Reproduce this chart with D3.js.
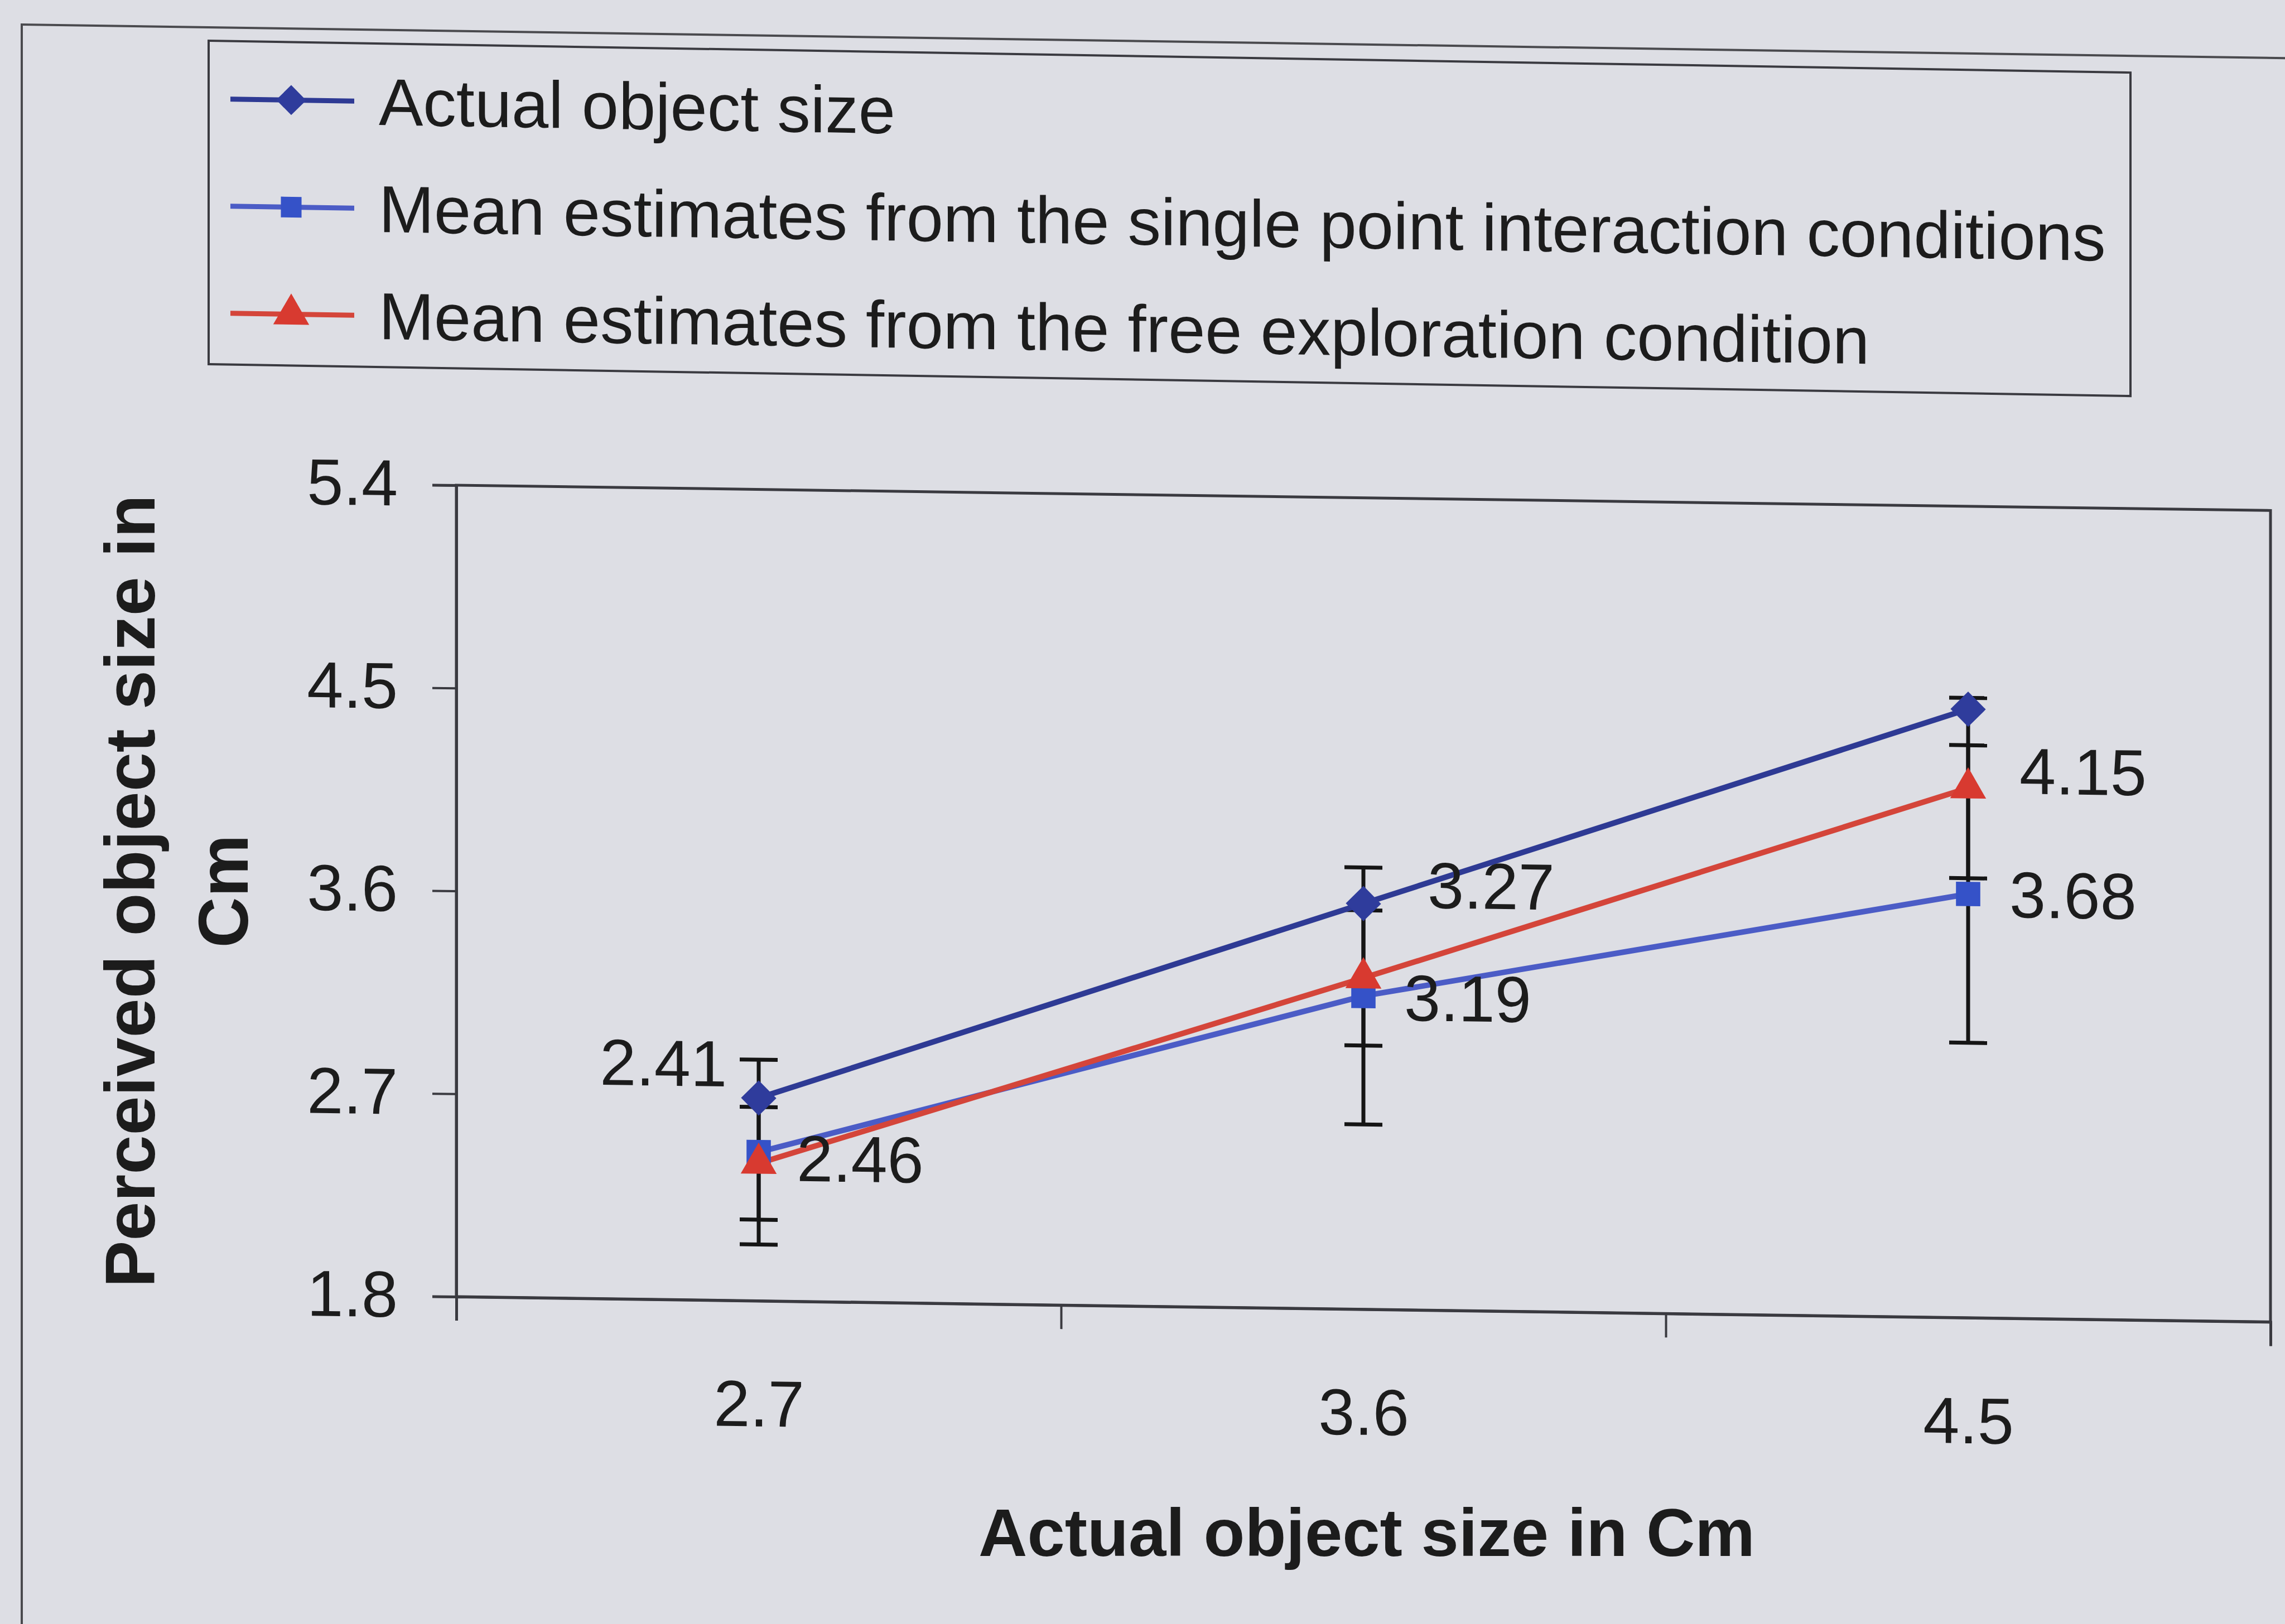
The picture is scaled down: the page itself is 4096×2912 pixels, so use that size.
<!DOCTYPE html>
<html>
<head>
<meta charset="utf-8">
<script src="https://cdn.jsdelivr.net/npm/d3@7"></script>
<style>
  html, body { margin: 0; padding: 0; background: #dddee4; }
  svg { display: block; font-family: "Liberation Sans", Arial, sans-serif; }
</style>
</head>
<body>
<svg width="4096" height="2912"></svg>
<script>
// values
var categories = ["2.7", "3.6", "4.5"];
var yTicks = [1.8, 2.7, 3.6, 4.5, 5.4];
var actualSize = [2.7, 3.6, 4.5];
var singlePoint = [2.46, 3.19, 3.68];
var singlePointErr = [0.41, 0.57, 0.66];
var freeExploration = [2.41, 3.27, 4.15];
var freeExplorationErr = [0.25, 0.3, 0.4];
var legendLabels = [
  "Actual object size",
  "Mean estimates from the single point interaction conditions",
  "Mean estimates from the free exploration condition"
];

// where the data labels sit next to their points (dx, dy, anchor)
var singleLabelOffsets = [[68, 51, "start"], [73, 43, "start"], [74, 41, "start"]];
var freeLabelOffsets = [[-57, -137, "end"], [115, -127, "start"], [92, 9, "start"]];

var svg = d3.select("svg");
var textColor = "#1c1c1c";

var series = [
  { name: legendLabels[0], values: actualSize, line: "#2e3a94", fill: "#2f3c9c", symbol: "diamond" },
  { name: legendLabels[1], values: singlePoint, err: singlePointErr, line: "#4b5cc6", fill: "#3552c8", symbol: "square", labels: singleLabelOffsets },
  { name: legendLabels[2], values: freeExploration, err: freeExplorationErr, line: "#d4453a", fill: "#d83a30", symbol: "triangle", labels: freeLabelOffsets }
];

function markerPath(kind) {
  if (kind === "diamond") return d3.symbol(d3.symbolSquare, 2000)();
  if (kind === "square") return d3.symbol(d3.symbolSquare, 1900)();
  return d3.symbol(d3.symbolTriangle, 1800)();
}
function markerTransform(kind, x, y) {
  return `translate(${x},${y})` + (kind === "diamond" ? " rotate(45)" : "");
}

// outer frame of the photographed sheet
svg.append("rect")
  .attr("transform", "translate(39,44) skewY(0.85)")
  .attr("width", 4200).attr("height", 3000)
  .attr("fill", "none").attr("stroke", "#4a4a4e").attr("stroke-width", 4);

// plot area
var margins = { left: 818, top: 870 };
var chartWidth = 3252;
var chartHeight = 1455;
var g = svg.append("g")
  .attr("transform", `translate(${margins.left},${margins.top}) skewY(0.8)`);

var xScale = d3.scalePoint(categories, [0, chartWidth]).padding(0.5);
var yScale = d3.scaleLinear([1.8, 5.4], [chartHeight, 0]);

g.append("rect")
  .attr("width", chartWidth).attr("height", chartHeight)
  .attr("fill", "none").attr("stroke", "#3a3a40").attr("stroke-width", 5);

// y axis
var yAxis = g.append("g")
  .call(d3.axisLeft(yScale).tickValues(yTicks).tickFormat(d3.format(".1f")).tickSize(43).tickPadding(62));
yAxis.select(".domain").attr("stroke", "#3a3a40").attr("stroke-width", 5);
yAxis.selectAll(".tick line").attr("stroke", "#3a3a40").attr("stroke-width", 4);
yAxis.selectAll(".tick text").attr("font-size", 117).attr("fill", textColor)
  .attr("font-family", "Liberation Sans, Arial, sans-serif");

// x axis: tick marks at the category edges, labels at the centres
var edgeScale = d3.scaleLinear([0, categories.length], [0, chartWidth]);
var xTickAxis = g.append("g")
  .attr("transform", `translate(0,${chartHeight})`)
  .call(d3.axisBottom(edgeScale).tickValues(d3.range(categories.length + 1)).tickFormat("").tickSize(43));
xTickAxis.select(".domain").attr("stroke", "#3a3a40").attr("stroke-width", 5);
xTickAxis.selectAll(".tick line").attr("stroke", "#3a3a40").attr("stroke-width", 4);

var xLabelAxis = g.append("g")
  .attr("transform", `translate(0,${chartHeight})`)
  .call(d3.axisBottom(xScale).tickSize(0).tickPadding(142));
xLabelAxis.select(".domain").remove();
xLabelAxis.selectAll(".tick text").attr("font-size", 117).attr("fill", textColor)
  .attr("font-family", "Liberation Sans, Arial, sans-serif");

// error bars
series.filter(function (s) { return s.err; }).forEach(function (s) {
  var eb = g.append("g").attr("stroke", "#151515").attr("stroke-width", 7).attr("fill", "none");
  s.values.forEach(function (v, i) {
    var x = xScale(categories[i]);
    var lo = yScale(v - s.err[i]);
    var hi = yScale(v + s.err[i]);
    eb.append("line").attr("x1", x).attr("x2", x).attr("y1", lo).attr("y2", hi);
    eb.append("line").attr("x1", x - 34).attr("x2", x + 34).attr("y1", lo).attr("y2", lo);
    eb.append("line").attr("x1", x - 34).attr("x2", x + 34).attr("y1", hi).attr("y2", hi);
  });
});

// lines
var line = d3.line()
  .x(function (d, i) { return xScale(categories[i]); })
  .y(function (d) { return yScale(d); });

series.forEach(function (s) {
  g.append("path")
    .datum(s.values)
    .attr("d", line)
    .attr("fill", "none")
    .attr("stroke", s.line)
    .attr("stroke-width", 10);
});

// markers
series.forEach(function (s) {
  g.append("g").selectAll("path")
    .data(s.values)
    .join("path")
    .attr("d", markerPath(s.symbol))
    .attr("transform", function (d, i) { return markerTransform(s.symbol, xScale(categories[i]), yScale(d)); })
    .attr("fill", s.fill);
});

// data labels
series.filter(function (s) { return s.labels; }).forEach(function (s) {
  g.append("g").selectAll("text")
    .data(s.values)
    .join("text")
    .attr("x", function (d, i) { return xScale(categories[i]) + s.labels[i][0]; })
    .attr("y", function (d, i) { return yScale(d) + s.labels[i][1]; })
    .attr("text-anchor", function (d, i) { return s.labels[i][2]; })
    .attr("font-size", 117)
    .attr("fill", textColor)
    .text(function (d) { return d3.format(".2f")(d); });
});

// axis titles
svg.append("text")
  .attr("x", 2450).attr("y", 2790)
  .attr("text-anchor", "middle")
  .attr("font-size", 121).attr("font-weight", "bold").attr("fill", textColor)
  .text("Actual object size in Cm");

var yTitle = svg.append("text")
  .attr("transform", "translate(0,1598) rotate(-90)")
  .attr("text-anchor", "middle")
  .attr("font-size", 126).attr("font-weight", "bold").attr("fill", textColor);
yTitle.append("tspan").attr("x", 0).attr("y", 277).text("Perceived object size in");
yTitle.append("tspan").attr("x", 0).attr("y", 444).text("Cm");

// legend
var legend = svg.append("g")
  .attr("transform", "translate(374,73) skewY(0.95)");
legend.append("rect")
  .attr("width", 3445).attr("height", 580)
  .attr("fill", "none").attr("stroke", "#3a3a40").attr("stroke-width", 4);

var rowY = d3.scalePoint(d3.range(series.length), [104, 488]);
var legendRow = legend.selectAll("g.row")
  .data(series)
  .join("g")
  .attr("class", "row")
  .attr("transform", function (d, i) { return `translate(0,${rowY(i)})`; });

legendRow.append("line")
  .attr("x1", 39).attr("x2", 261)
  .attr("stroke", function (d) { return d.line; })
  .attr("stroke-width", 9);
legendRow.append("path")
  .attr("d", function (d) { return markerPath(d.symbol); })
  .attr("transform", function (d) { return markerTransform(d.symbol, 148, 0) + (d.symbol === "triangle" ? "" : " scale(0.85)"); })
  .attr("fill", function (d) { return d.fill; });
legendRow.append("text")
  .attr("x", 305).attr("y", 42)
  .attr("font-size", 119)
  .attr("fill", textColor)
  .text(function (d) { return d.name; });
</script>
</body>
</html>
